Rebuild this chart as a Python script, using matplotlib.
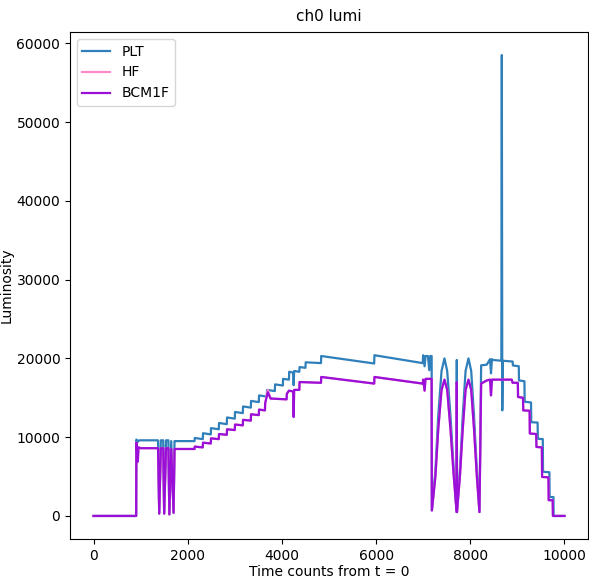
# ch0 lumi - PLT / HF / BCM1F luminosity vs time counts
import matplotlib.pyplot as plt

# ---------- Data ----------
plt_t = [0, 905, 910, 940, 970, 1000, 1370, 1395, 1430, 1480, 1500, 1540,
         1590, 1610, 1650, 1700, 1720, 2145,
         2150, 2320, 2325, 2490, 2495, 2660, 2665, 2830, 2835, 3000, 3005,
         3170, 3175, 3340, 3345, 3510, 3515, 3680, 3685, 3850, 3855, 4020,
         4025, 4150, 4155, 4240, 4250, 4260, 4370, 4375, 4500, 4505, 4830,
         4835, 5960, 5965, 6990, 7000, 7030, 7050, 7100, 7130, 7150, 7180,
         7185, 7260, 7320, 7390, 7452, 7510, 7580, 7650, 7710, 7714, 7718,
         7780, 7840, 7900, 7962, 8020, 8080, 8140, 8195, 8231, 8350, 8420,
         8440, 8460, 8480, 8660, 8670, 8680, 8690, 8900, 8905, 9030, 9035,
         9150, 9155, 9290, 9295, 9430, 9435, 9540, 9545, 9680, 9685, 9766,
         9770, 10000]
plt_vals = [0, 0, 9700, 9400, 9600, 9600, 9600, 300, 9600, 9600, 300, 9600,
            9600, 200, 9500, 400, 9500, 9500,
            9900, 9750, 10500, 10350, 11150, 11000, 11800, 11650, 12500, 12350,
            13200, 13050, 13900, 13750, 14600, 14450, 15300, 15150, 16000,
            15850, 16700, 16550, 17400, 17300, 18300, 18200, 16600, 18400,
            18300, 18900, 18800, 19500, 19400, 20300, 19350, 20400, 19400,
            20400, 19000, 20300, 20300, 18500, 20300, 20300,
            700, 5800, 12700, 18400, 20000, 18400, 12700, 5800, 500, 19800, 500,
            5800, 12700, 18400, 20000, 18400, 12700, 5800, 500, 19120, 19200,
            19900, 18100, 19900, 19800, 19700, 58500, 13400, 19700, 19600,
            19100, 19000, 17200, 17100, 14500, 14400, 11900, 11850, 9800, 9750,
            5600, 5550, 2400, 2400, 0, 0]

bcm_t = [0, 905, 910, 940, 955, 1000, 1370, 1395, 1430, 1480, 1500, 1540,
         1590, 1610, 1650, 1700, 1720, 2145,
         2150, 2320, 2325, 2490, 2495, 2660, 2665, 2830, 2835, 3000, 3005,
         3170, 3175, 3340, 3345, 3510, 3515, 3640, 3645, 3700, 3760, 4100,
         4105, 4150, 4240, 4250, 4260, 4370, 4375, 4830, 4835, 5960, 5965,
         6990, 7000, 7030, 7050, 7180, 7185, 7260, 7320, 7390, 7452, 7510,
         7580, 7650, 7710, 7714, 7718, 7780, 7840, 7900, 7962, 8020, 8080,
         8140, 8195, 8231, 8350, 8420, 8440, 8460, 8880, 8900, 9010, 9015,
         9120, 9125, 9260, 9265, 9400, 9405, 9520, 9525, 9660, 9665, 9750,
         9755, 10000]
bcm_vals = [0, 0, 9300, 6900, 8700, 8600, 8600, 300, 8600, 8600, 300, 8600,
            8600, 200, 8500, 400, 8500, 8500,
            8800, 8700, 9300, 9200, 9850, 9750, 10400, 10300, 11000, 10900,
            11600, 11500, 12200, 12100, 12900, 12800, 13500, 13400, 14300,
            15700, 14900, 14800, 15500, 15900, 15800, 12560, 16000, 16000,
            17000, 16900, 17640, 16800, 17640, 16800, 17300, 15900, 17400,
            17400, 700, 5000, 11000, 16000, 17300, 16000, 11000, 5000, 500,
            17000, 500, 5000, 11000, 16000, 17300, 16000, 11000, 5000, 500,
            16800, 17200, 17300, 15300, 17300, 17300, 16900, 16900, 15100,
            15000, 13400, 13350, 10460, 10400, 8760, 8700, 4950, 4900, 2000,
            2000, 0, 0]

# HF sits almost exactly under BCM1F
hf_t = list(bcm_t)
hf_vals = list(bcm_vals)
hf_vals[bcm_t.index(3700)] = 16000

# ---------- Figure ----------
fig = plt.figure(figsize=(5.89, 5.81), dpi=100)
ax = fig.add_axes([0.1188, 0.0723, 0.8795, 0.8726])

ax.plot(plt_t, plt_vals, color="#2f7fba", lw=1.6, label="PLT")
ax.plot(hf_t, hf_vals, color="#ff88c8", lw=1.6, label="HF")
ax.plot(bcm_t, bcm_vals, color="#9a10d8", lw=1.6, label="BCM1F")

ax.set_title("ch0 lumi", fontsize=11, pad=8)
ax.set_xlabel("Time counts from t = 0", fontsize=10, labelpad=2)
ax.set_ylabel("Luminosity", fontsize=10, labelpad=2)
ax.tick_params(labelsize=10)
ax.legend(loc="upper left", fontsize=10)

fig.savefig("out.png", dpi=100)
